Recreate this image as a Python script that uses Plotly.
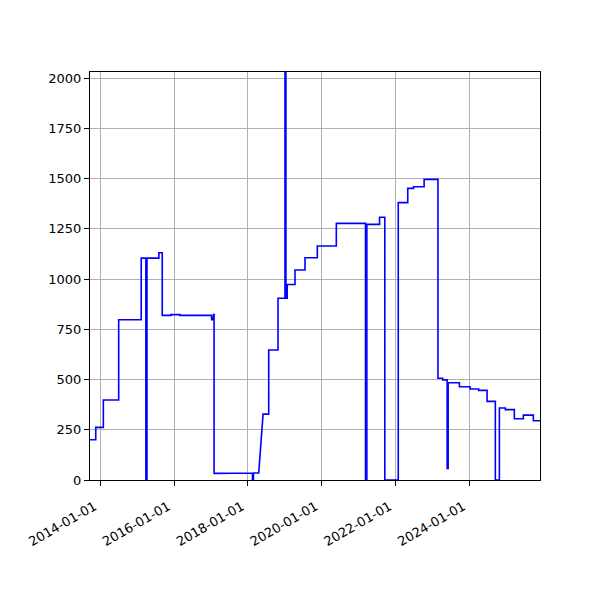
import plotly.graph_objs as go

# price history (pairs of points make the vertical steps)
dates = [
    '2013-09-21', '2013-11-17', '2013-11-17', '2014-01-31', '2014-01-31',
    '2014-07-02', '2014-07-02', '2015-02-10', '2015-02-10', '2015-03-28',
    '2015-03-28', '2015-04-08', '2015-04-08', '2015-08-04', '2015-08-04',
    '2015-09-06', '2015-09-06', '2015-12-01', '2015-12-01', '2016-02-27',
    '2016-02-27', '2017-01-05', '2017-01-08', '2017-01-22', '2017-01-25',
    '2017-01-31', '2017-01-31', '2017-10-19', '2017-10-19', '2018-02-15',
    '2018-02-15', '2018-02-25', '2018-02-25', '2018-04-18', '2018-05-31',
    '2018-07-26', '2018-07-26', '2018-10-26', '2018-10-26', '2019-01-03',
    '2019-01-03', '2019-01-12', '2019-01-12', '2019-01-25', '2019-01-25',
    '2019-04-12', '2019-04-12', '2019-07-20', '2019-07-20', '2019-11-19',
    '2019-11-19', '2020-05-25', '2020-05-25', '2021-03-10', '2021-03-10',
    '2021-03-23', '2021-03-23', '2021-07-27', '2021-07-27', '2021-09-17',
    '2021-09-17', '2022-01-28', '2022-01-28', '2022-05-02', '2022-05-02',
    '2022-06-28', '2022-06-28', '2022-10-11', '2022-10-11', '2023-02-25',
    '2023-02-25', '2023-04-13', '2023-04-13', '2023-05-27', '2023-05-27',
    '2023-06-06', '2023-06-06', '2023-09-25', '2023-09-25', '2024-01-09',
    '2024-01-09', '2024-04-03', '2024-04-03', '2024-06-25', '2024-06-25',
    '2024-09-15', '2024-09-15', '2024-10-25', '2024-10-25', '2024-12-23',
    '2024-12-23', '2025-03-22', '2025-03-22', '2025-06-19', '2025-06-19',
    '2025-09-26', '2025-09-26', '2025-12-01',
]
prices = [
    200, 200, 262, 262, 398,
    398, 797, 797, 1104, 1104,
    0, 0, 1104, 1104, 1131,
    1131, 819, 819, 823, 823,
    819, 819, 797, 797, 823,
    823, 33, 33, 35, 35,
    0, 0, 35, 35, 328,
    328, 647, 647, 904, 904,
    2500, 2500, 904, 904, 973,
    973, 1045, 1045, 1106, 1106,
    1164, 1164, 1277, 1277, 0,
    0, 1272, 1272, 1307, 1307,
    0, 0, 1380, 1380, 1451,
    1451, 1459, 1459, 1496, 1496,
    506, 506, 498, 498, 58,
    58, 484, 484, 464, 464,
    453, 453, 446, 446, 391,
    391, 0, 0, 358, 358,
    350, 350, 305, 305, 323,
    323, 295, 295,
]
x_ticks = ['2014-01-01', '2016-01-01', '2018-01-01', '2020-01-01', '2022-01-01', '2024-01-01']
y_ticks = [0, 250, 500, 750, 1000, 1250, 1500, 1750, 2000]

fig = go.Figure()
fig.add_trace(go.Scatter(x=dates, y=prices, mode='lines',
                         line=dict(color='#0000ff', width=1.6), showlegend=False))

axis_style = dict(showline=True, linecolor='black', linewidth=1.1, mirror=True,
                  ticks='outside', ticklen=5, tickcolor='black', tickwidth=1.1,
                  showgrid=True, gridcolor='#b0b0b0', gridwidth=1.1, zeroline=False,
                  automargin=False,
                  tickfont=dict(family='DejaVu Sans', size=13, color='black'))

fig.update_xaxes(range=[dates[0], dates[-1]], tickvals=x_ticks, ticktext=x_ticks,
                 tickangle=-30, ticklabelshift=-6, ticklabelstandoff=8, **axis_style)
fig.update_yaxes(range=[0, 2030], tickvals=y_ticks, **axis_style)
# page body adds 8px, so margins are shifted to land the plot area where the reference has it
fig.update_layout(width=600, height=600, plot_bgcolor='white', paper_bgcolor='white',
                  margin=dict(l=82, r=68, t=64, b=128),
                  font=dict(family='DejaVu Sans', size=13, color='black'))
fig.write_html("out.html")
